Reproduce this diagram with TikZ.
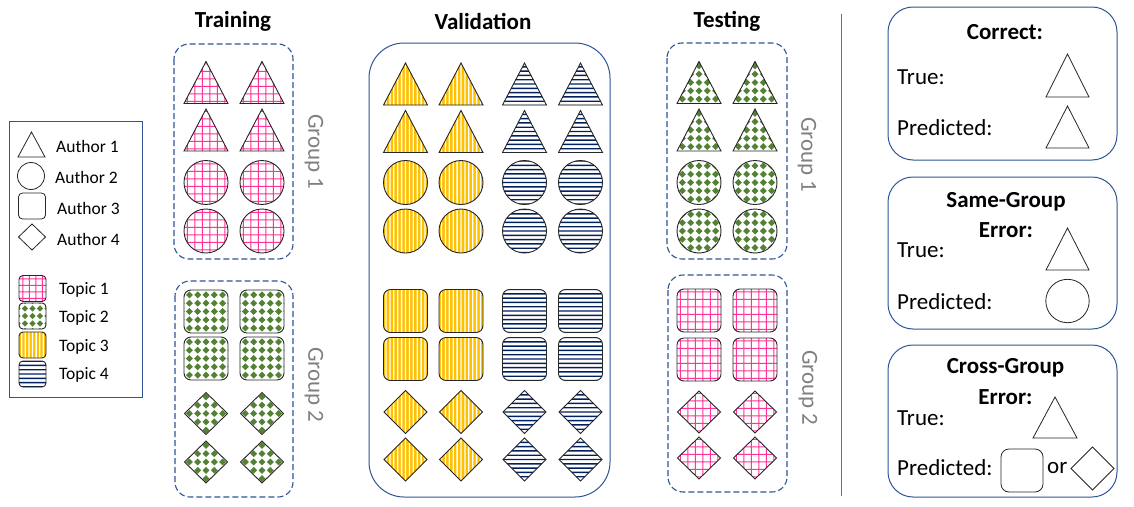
\documentclass[tikz,border=0pt]{standalone}
\usepackage{fontspec}
\setmainfont{Carlito}
\usetikzlibrary{calc}
\definecolor{pinkc}{HTML}{FF3399}
\definecolor{greenc}{HTML}{548235}
\definecolor{yellowc}{HTML}{FFC000}
\definecolor{navyc}{HTML}{002060}
\definecolor{boxblue}{HTML}{2F5597}
\definecolor{linblue}{HTML}{4472C4}
\definecolor{grayc}{HTML}{808080}
\tikzset{
  outl/.style={draw=black!85, line width=0.9pt},
  thinoutl/.style={draw=black!85, line width=0.8pt},
  pinkgrid/.style={fill=white, path picture={\begin{scope}[shift={(path picture bounding box.center)}]
      \path[fill=pinkc,draw=none,sharp corners] \foreach \i in {-6,...,6}{
        (\i*#1+0.5*#1-0.5,-40) rectangle (\i*#1+0.5*#1+0.5,40)
        (-40,\i*#1+0.5*#1-0.5) rectangle (40,\i*#1+0.5*#1+0.5)};\end{scope}}},
  pinkgrid/.default=7.5,
  greendots/.style={fill=white, path picture={\begin{scope}[shift={(path picture bounding box.center)}]
      \path[fill=greenc,draw=none,sharp corners] \foreach \i in {-5,...,5}{\foreach \j in {-5,...,5}{
        (\i*#1-#1*0.42,\j*#1) -- (\i*#1,\j*#1-#1*0.42) -- (\i*#1+#1*0.42,\j*#1) -- (\i*#1,\j*#1+#1*0.42) -- cycle}};\end{scope}}},
  greendots/.default=8.3,
  yellowstr/.style={fill=yellowc, path picture={\begin{scope}[shift={(path picture bounding box.center)}]
      \path[fill=white,draw=none,sharp corners] \foreach \i in {-12,...,12}{
        (\i*#1-0.65,-40) rectangle (\i*#1+0.65,40)};\end{scope}}},
  yellowstr/.default=3.9,
  navystr/.style={fill=white, path picture={\begin{scope}[shift={(path picture bounding box.center)}]
      \path[fill=navyc,draw=none,sharp corners] \foreach \i in {-12,...,12}{
        (-40,\i*#1-0.7) rectangle (40,\i*#1+0.7)};\end{scope}}},
  navystr/.default=4.3,
  grpbox/.style={draw=boxblue, line width=1.1pt, dash pattern=on 6pt off 3pt, rounded corners=15pt},
  valbox/.style={draw=boxblue, line width=1pt, rounded corners=35pt},
  panelbox/.style={draw=boxblue, line width=1pt, rounded corners=25pt},
  legbox/.style={draw=boxblue, line width=1pt},
  hdr/.style={inner sep=0pt, font=\fontsize{23}{26}\selectfont\bfseries},
  lgtext/.style={inner sep=0pt, anchor=west, font=\fontsize{17.5}{20}\selectfont},
  pntext/.style={inner sep=0pt, anchor=west, font=\fontsize{23}{26}\selectfont},
  pnhead/.style={inner sep=0pt, font=\fontsize{23}{26}\selectfont\bfseries},
  grouplbl/.style={inner sep=0pt, rotate=-90, text=grayc, font=\fontsize{23}{26}\selectfont},
}
% shape macros: x, y, half-width, half-height, style
\newcommand\TriX[5]{\draw[outl,#5] (#1-#3,#2+#4) -- (#1,#2-#4) -- (#1+#3,#2+#4) -- cycle;}
\newcommand\CircX[4]{\draw[outl,#4] (#1,#2) circle[radius=#3];}
\newcommand\SqX[6]{\draw[outl,rounded corners=#5,#6] (#1-#3,#2-#4) rectangle (#1+#3,#2+#4);}
\newcommand\DiaX[5]{\draw[outl,#5] (#1-#3,#2) -- (#1,#2-#4) -- (#1+#3,#2) -- (#1,#2+#4) -- cycle;}
\begin{document}
\begin{tikzpicture}[x=1pt,y=-1pt]
\useasboundingbox (0,0) rectangle (1134,506);
\fill[white] (0,0) rectangle (1134,506);

% ---------- legend ----------
\draw[legbox] (9,121) rectangle (142,397);
\TriX{31.5}{144.5}{13.5}{12.5}{thinoutl}
\CircX{31}{176}{13.5}{thinoutl}
\SqX{32}{206}{13.5}{13}{4pt}{thinoutl}
\DiaX{32}{237}{13.5}{13}{thinoutl}
\node[lgtext] (la1) at (56,146) {Author 1};
\node[lgtext] (la2) at (55,177) {Author 2};
\node[lgtext] (la3) at (57,208) {Author 3};
\node[lgtext] (la4) at (57,239) {Author 4};
\SqX{32.5}{288.5}{13.5}{13}{4pt}{pinkgrid=6.5}
\SqX{32.5}{316}{13.5}{13}{4pt}{greendots=7.5}
\SqX{32.5}{345}{13.5}{13}{4pt}{yellowstr=3.6}
\SqX{32.5}{374}{13.5}{13}{4pt}{navystr=4.3}
\node[lgtext] (lt1) at (59,290) {Topic 1};
\node[lgtext] (lt2) at (59,318) {Topic 2};
\node[lgtext] (lt3) at (59,347) {Topic 3};
\node[lgtext] (lt4) at (59,375) {Topic 4};

% ---------- headers ----------
\node[hdr] (htrain) at (233,21) {Training};
\node[hdr] (hval) at (483,21) {Validation};
\node[hdr] (htest) at (727,21) {Testing};

% ---------- training ----------
\draw[grpbox] (174,44) rectangle (293,259);
\draw[grpbox] (175,281) rectangle (293,497);
\foreach \x in {206,262}{
  \TriX{\x}{82.5}{22}{21}{pinkgrid}
  \TriX{\x}{130}{22}{21}{pinkgrid}
  \CircX{\x}{182.5}{22}{pinkgrid}
  \CircX{\x}{231}{22}{pinkgrid}
  \SqX{\x}{311.5}{22}{21.5}{7pt}{greendots}
  \SqX{\x}{358.5}{22}{21.5}{7pt}{greendots}
  \DiaX{\x}{413.5}{21.5}{21}{greendots}
  \DiaX{\x}{462}{21.5}{21}{greendots}
}
\node[grouplbl] (tg1) at (314,152) {Group 1};
\node[grouplbl] (tg2) at (314,385) {Group 2};

% ---------- validation ----------
\draw[valbox] (369,43) rectangle (610,497);
\foreach \x/\p in {405.5/yellowstr,461/yellowstr,524.5/navystr,580.5/navystr}{
  \TriX{\x}{84}{22}{21}{\p}
  \TriX{\x}{131.5}{22}{21}{\p}
  \CircX{\x}{182.5}{22}{\p}
  \CircX{\x}{231}{22}{\p}
  \SqX{\x}{311}{22}{21.5}{7pt}{\p}
  \SqX{\x}{359}{22}{21.5}{7pt}{\p}
  \DiaX{\x}{412}{21.5}{21.5}{\p}
  \DiaX{\x}{459.5}{21.5}{21.5}{\p}
}

% ---------- testing ----------
\draw[grpbox] (667,43) rectangle (787,259);
\draw[grpbox] (668,275) rectangle (787,492);
\foreach \x in {699,755}{
  \TriX{\x}{82.5}{22}{21}{greendots}
  \TriX{\x}{130}{22}{21}{greendots}
  \CircX{\x}{182.5}{22}{greendots}
  \CircX{\x}{231}{22}{greendots}
  \SqX{\x}{310.5}{22}{21.5}{7pt}{pinkgrid}
  \SqX{\x}{359.5}{22}{21.5}{7pt}{pinkgrid}
  \DiaX{\x}{412}{21.5}{21}{pinkgrid}
  \DiaX{\x}{458}{21.5}{21}{pinkgrid}
}
\node[grouplbl] (sg1) at (807,155) {Group 1};
\node[grouplbl] (sg2) at (808,388) {Group 2};

% ---------- separator ----------
\coordinate (vt) at (841.5,14);
\coordinate (vb) at (841.5,496);
\draw[linblue, line width=1.2pt] (vt) -- (vb);

% ---------- right panels ----------
\draw[panelbox] (888,7) rectangle (1117,160);
\node[pnhead] (c1) at (1005,32) {Correct:};
\node[pntext] (c2) at (897,77) {True:};
\node[pntext] (c3) at (897,128) {Predicted:};
\TriX{1067.5}{75.5}{21.5}{21.5}{thinoutl}
\TriX{1067.5}{127}{21.5}{21}{thinoutl}

\draw[panelbox] (888,177) rectangle (1117,329);
\node[pnhead] (s1) at (1006,202) {Same-Group};
\node[pnhead] (s2) at (1006,230) {Error:};
\node[pntext] (s3) at (897,250) {True:};
\node[pntext] (s4) at (897,302) {Predicted:};
\TriX{1067.5}{249}{21.5}{21}{thinoutl}
\CircX{1067.5}{301}{21.7}{thinoutl}

\draw[panelbox] (888,345) rectangle (1117,497);
\node[pnhead] (x1) at (1005.5,368) {Cross-Group};
\node[pnhead] (x2) at (1005.5,397) {Error:};
\node[pntext] (x3) at (897,418) {True:};
\node[pntext] (x4) at (897,468) {Predicted:};
\node[pntext] (x5) at (1047,468) {or};
\TriX{1055}{417.5}{22}{20.5}{thinoutl}
\SqX{1022}{470.5}{21}{21.5}{8pt}{thinoutl}
\DiaX{1092.5}{468.5}{21.5}{21.5}{thinoutl}
\end{tikzpicture}
\end{document}
